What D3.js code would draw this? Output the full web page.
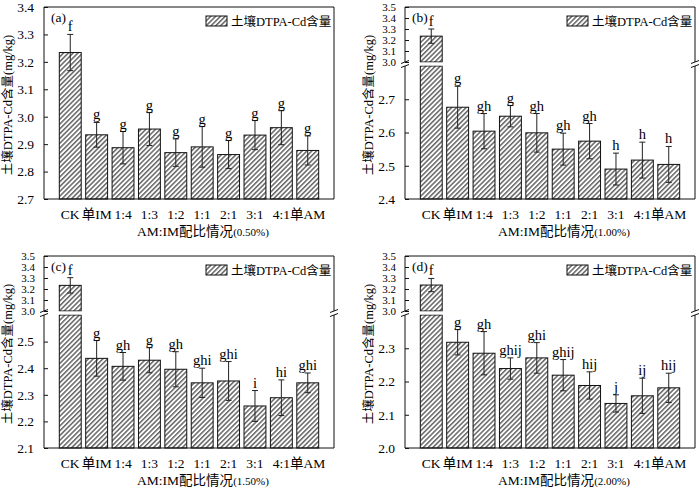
<!DOCTYPE html>
<html>
<head>
<meta charset="utf-8">
<script src="https://cdn.jsdelivr.net/npm/d3@7"></script>
<style>
  body { margin: 0; background: #fff; }
  svg { display: block; }
  text { font-family: "Liberation Serif", "Noto Sans CJK SC", serif; fill: #000; }
</style>
</head>
<body>
<div id="chart"></div>
<script>
// Treatments on the x axis
const categories = ['CK', '单IM', '1:4', '1:3', '1:2', '1:1', '2:1', '3:1', '4:1', '单AM'];
const panelLabels = ['(a)', '(b)', '(c)', '(d)'];
const doses = ['0.50%', '1.00%', '1.50%', '2.00%'];

// Soil DTPA-Cd (mg/kg), mean and error
const meansA = [3.234, 2.934, 2.887, 2.955, 2.869, 2.890, 2.862, 2.933, 2.960, 2.877];
const errorsA = [0.066, 0.045, 0.059, 0.060, 0.050, 0.074, 0.051, 0.053, 0.062, 0.053];
const lettersA = ['f', 'g', 'g', 'g', 'g', 'g', 'g', 'g', 'g', 'g'];

const meansB = [3.235, 2.676, 2.604, 2.649, 2.599, 2.550, 2.574, 2.490, 2.517, 2.504];
const errorsB = [0.065, 0.063, 0.053, 0.032, 0.058, 0.048, 0.053, 0.048, 0.054, 0.054];
const lettersB = ['f', 'g', 'gh', 'g', 'gh', 'gh', 'gh', 'h', 'h', 'h'];

const meansC = [3.233, 2.437, 2.407, 2.430, 2.396, 2.345, 2.352, 2.258, 2.289, 2.345];
const errorsC = [0.070, 0.067, 0.052, 0.047, 0.066, 0.055, 0.073, 0.058, 0.067, 0.037];
const lettersC = ['f', 'g', 'gh', 'g', 'gh', 'ghi', 'ghi', 'i', 'hi', 'ghi'];

const meansD = [3.236, 2.318, 2.285, 2.239, 2.271, 2.219, 2.188, 2.134, 2.157, 2.181];
const errorsD = [0.060, 0.038, 0.065, 0.032, 0.046, 0.047, 0.041, 0.026, 0.053, 0.044];
const lettersD = ['f', 'g', 'gh', 'ghij', 'ghi', 'ghij', 'hij', 'j', 'ij', 'hij'];

// y axis domains: lower segment, and the upper one when the axis is broken
const lowerDomains = [[2.7, 3.4], [2.4, 2.8], [2.1, 2.6], [2.0, 2.4]];
const lowerTicks = [
  [2.7, 2.8, 2.9, 3.0, 3.1, 3.2, 3.3, 3.4],
  [2.4, 2.5, 2.6, 2.7],
  [2.1, 2.2, 2.3, 2.4, 2.5],
  [2.0, 2.1, 2.2, 2.3]
];
const upperDomain = [3.0, 3.5];
const upperTicks = [3.0, 3.1, 3.2, 3.3, 3.4, 3.5];
const hasBreak = [false, true, true, true];

const legendLabel = '土壤DTPA-Cd含量';
const yTitle = '土壤DTPA-Cd含量(mg/kg)';
const xTitle = 'AM:IM配比情况';

const allMeans = [meansA, meansB, meansC, meansD];
const allErrors = [errorsA, errorsB, errorsC, errorsD];
const allLetters = [lettersA, lettersB, lettersC, lettersD];

const width = 700, height = 488;
const offsets = [[0, 0], [361, 0], [0, 249], [361, 249]];
const plot = {left: 44, right: 334, top: 7, bottom: 199, breakTop: 62, breakBottom: 66};

const svg = d3.select('#chart').append('svg')
    .attr('width', width)
    .attr('height', height);

// Diagonal hatch used for the bars and the legend swatch
const defs = svg.append('defs');
const hatch = defs.append('pattern')
    .attr('id', 'hatch')
    .attr('patternUnits', 'userSpaceOnUse')
    .attr('width', 3.4)
    .attr('height', 3.4)
    .attr('patternTransform', 'rotate(45)');
hatch.append('rect').attr('width', 3.4).attr('height', 3.4).attr('fill', '#fff');
hatch.append('line')
    .attr('x1', 0.8).attr('y1', 0).attr('x2', 0.8).attr('y2', 3.4)
    .attr('stroke', '#2a2a2a').attr('stroke-width', 1.1);

const x = d3.scaleBand()
    .domain(categories)
    .range([plot.left, plot.right])
    .paddingInner(0.17)
    .paddingOuter(0.58);

function drawPanel(i) {
  const g = svg.append('g')
      .attr('transform', `translate(${offsets[i][0]},${offsets[i][1]})`);
  const means = allMeans[i], errors = allErrors[i], letters = allLetters[i];
  const broken = hasBreak[i];

  const yLow = d3.scaleLinear()
      .domain(lowerDomains[i])
      .range([plot.bottom, broken ? plot.breakBottom : plot.top]);
  const yUp = d3.scaleLinear()
      .domain(upperDomain)
      .range([plot.breakTop, plot.top]);

  // pick the segment a value belongs to
  const yOf = v => (broken && v >= upperDomain[0]) ? yUp(v) : yLow(v);

  const data = categories.map((c, k) => ({cat: c, mean: means[k], err: errors[k], letter: letters[k]}));

  // bars
  data.forEach(d => {
    const bx = x(d.cat), bw = x.bandwidth();
    if (broken && d.mean > upperDomain[0]) {
      g.append('rect')
          .attr('x', bx).attr('width', bw)
          .attr('y', plot.breakBottom).attr('height', plot.bottom - plot.breakBottom)
          .attr('fill', 'url(#hatch)').attr('stroke', '#111').attr('stroke-width', 1);
      g.append('rect')
          .attr('x', bx).attr('width', bw)
          .attr('y', yUp(d.mean)).attr('height', plot.breakTop - yUp(d.mean))
          .attr('fill', 'url(#hatch)').attr('stroke', '#111').attr('stroke-width', 1);
    } else {
      g.append('rect')
          .attr('x', bx).attr('width', bw)
          .attr('y', yLow(d.mean)).attr('height', plot.bottom - yLow(d.mean))
          .attr('fill', 'url(#hatch)').attr('stroke', '#111').attr('stroke-width', 1);
    }
  });

  if (broken) {
    // white gap across the whole plot at the break
    g.append('rect')
        .attr('x', plot.left + 1).attr('width', plot.right - plot.left - 2)
        .attr('y', plot.breakTop + 0.5).attr('height', plot.breakBottom - plot.breakTop - 1)
        .attr('fill', '#fff');
  }

  // error bars
  const cap = 3;
  data.forEach(d => {
    const cx = x(d.cat) + x.bandwidth() / 2;
    const yTop = yOf(d.mean + d.err), yBot = yOf(d.mean - d.err);
    const eg = g.append('g').attr('stroke', '#222').attr('stroke-width', 1);
    eg.append('line').attr('x1', cx).attr('x2', cx).attr('y1', yTop).attr('y2', yBot);
    eg.append('line').attr('x1', cx - cap).attr('x2', cx + cap).attr('y1', yTop).attr('y2', yTop);
    eg.append('line').attr('x1', cx - cap).attr('x2', cx + cap).attr('y1', yBot).attr('y2', yBot);
    g.append('text')
        .attr('x', cx)
        .attr('y', yTop - 3)
        .attr('text-anchor', 'middle')
        .attr('font-size', 14.5)
        .text(d.letter);
  });

  // frame
  const frame = g.append('g').attr('stroke', '#111').attr('stroke-width', 1).attr('fill', 'none');
  frame.append('line').attr('x1', plot.left).attr('x2', plot.right).attr('y1', plot.top).attr('y2', plot.top);
  frame.append('line').attr('x1', plot.left).attr('x2', plot.right).attr('y1', plot.bottom).attr('y2', plot.bottom);
  [plot.left, plot.right].forEach(xx => {
    if (broken) {
      frame.append('line').attr('x1', xx).attr('x2', xx).attr('y1', plot.top).attr('y2', plot.breakTop);
      frame.append('line').attr('x1', xx).attr('x2', xx).attr('y1', plot.breakBottom).attr('y2', plot.bottom);
      // break marks
      frame.append('line').attr('x1', xx - 4).attr('x2', xx + 4).attr('y1', plot.breakTop + 1.5).attr('y2', plot.breakTop - 1.5);
      frame.append('line').attr('x1', xx - 4).attr('x2', xx + 4).attr('y1', plot.breakBottom + 1.5).attr('y2', plot.breakBottom - 1.5);
    } else {
      frame.append('line').attr('x1', xx).attr('x2', xx).attr('y1', plot.top).attr('y2', plot.bottom);
    }
  });

  // y axis, ticks pointing inward
  const axisLow = d3.axisLeft(yLow)
      .tickValues(lowerTicks[i])
      .tickFormat(d3.format('.1f'))
      .tickSizeInner(-4).tickSizeOuter(0).tickPadding(10);
  const gLow = g.append('g').attr('transform', `translate(${plot.left},0)`).call(axisLow);
  styleAxis(gLow, 13.5);
  if (broken) {
    const axisUp = d3.axisLeft(yUp)
        .tickValues(upperTicks)
        .tickFormat(d3.format('.1f'))
        .tickSizeInner(-4).tickSizeOuter(0).tickPadding(9);
    const gUp = g.append('g').attr('transform', `translate(${plot.left},0)`).call(axisUp);
    styleAxis(gUp, 11);
  }

  // x tick labels
  g.selectAll('.xlabel')
      .data(categories)
    .join('text')
      .attr('class', 'xlabel')
      .attr('x', d => x(d) + x.bandwidth() / 2)
      .attr('y', plot.bottom + 20)
      .attr('text-anchor', 'middle')
      .attr('font-size', 13.5)
      .text(d => d);

  // x axis title
  const xt = g.append('text')
      .attr('x', 203)
      .attr('y', plot.bottom + 37)
      .attr('text-anchor', 'middle')
      .attr('font-size', 13.5);
  xt.append('tspan').text(xTitle);
  xt.append('tspan').attr('font-size', 11).text(`(${doses[i]})`);

  // y axis title
  g.append('text')
      .attr('transform', `translate(12,${(plot.top + plot.bottom) / 2 + 2}) rotate(-90)`)
      .attr('text-anchor', 'middle')
      .attr('font-size', 12.5)
      .text(yTitle);

  // panel label
  g.append('text')
      .attr('x', 51)
      .attr('y', 22)
      .attr('font-size', 13.5)
      .text(panelLabels[i]);

  // legend
  g.append('rect')
      .attr('x', 206).attr('y', 16)
      .attr('width', 21).attr('height', 10)
      .attr('fill', 'url(#hatch)').attr('stroke', '#111').attr('stroke-width', 1);
  g.append('text')
      .attr('x', 231)
      .attr('y', 26)
      .attr('font-size', 12.5)
      .text(legendLabel);
}

function styleAxis(a, size) {
  a.select('.domain').remove();
  a.selectAll('.tick line').attr('stroke', '#111');
  a.selectAll('.tick text')
      .attr('font-size', size)
      .attr('font-family', '"Liberation Serif", serif')
      .attr('fill', '#000');
}

[0, 1, 2, 3].forEach(drawPanel);
</script>
</body>
</html>
